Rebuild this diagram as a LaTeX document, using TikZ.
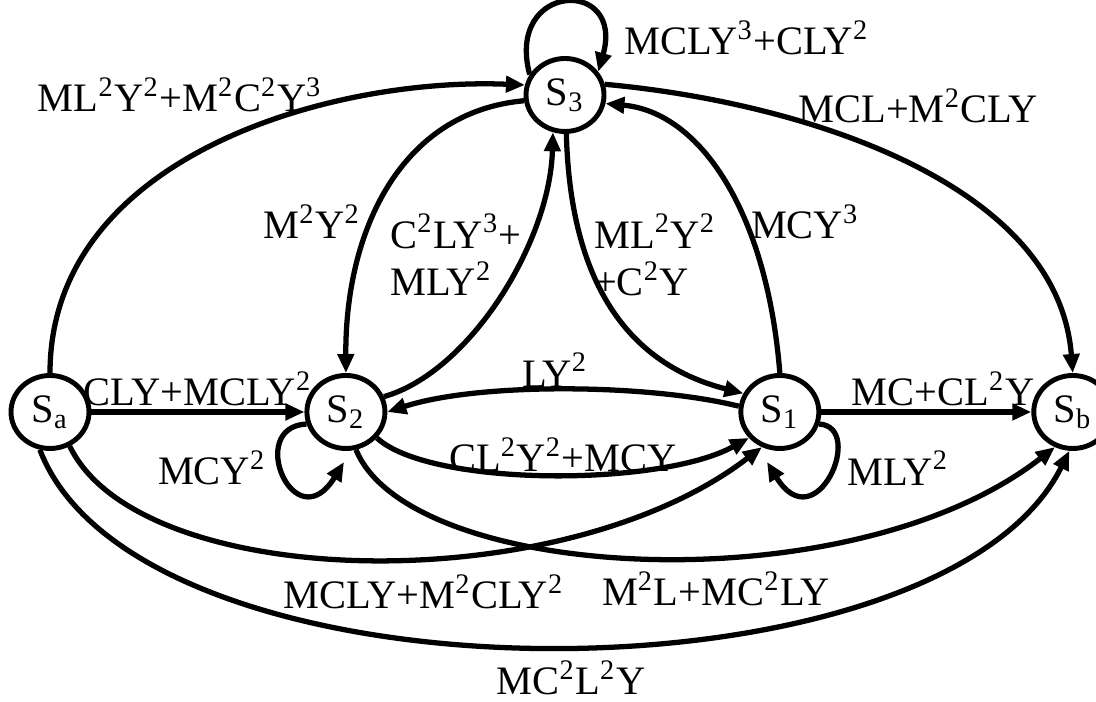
\documentclass[tikz,border=0pt]{standalone}
\usepackage{fontspec}
\setmainfont{Liberation Serif}
\usetikzlibrary{arrows.meta,positioning,shapes.geometric}
\newcommand{\pw}[1]{\textsuperscript{#1}}
\tikzset{
  st/.style={draw,ellipse,line width=1.4pt,minimum width=7.8mm,minimum height=7.3mm,
    inner sep=0pt,fill=white},
  arrow/.style={-{Triangle[length=1.9mm,width=1.6mm]},line width=1.5pt,draw=black},
  term/.style={inner sep=1pt,align=left}
}

\begin{document}
\begin{tikzpicture}[x=0.1mm,y=0.1mm,font=\fontsize{11.5}{13.5}\selectfont]
  \useasboundingbox (0,0) rectangle (1096,702);

  % states
  \node[st] (sa) at (50,290) {S\textsubscript{a}};
  \node[st,right=21.3mm of sa] (s2) {S\textsubscript{2}};
  \node[st,right=35.1mm of s2] (s1) {S\textsubscript{1}};
  \node[st,right=21mm of s1] (sb) {S\textsubscript{b}};
  \node[st] (s3) at (565,607) {S\textsubscript{3}};

  % loop ends stop short of the state
  \coordinate (s2loop) at (344,240);
  \coordinate (s1loop) at (767,240);

  % straight transitions
  \draw[arrow] (sa) -- node[term,above] (tsa2) {CLY+MCLY\pw{2}} (s2);
  \draw[arrow] (s1) -- node[term,above,pos=0.58] (ts1b) {MC+CL\pw{2}Y} (sb);

  % upper arcs
  \draw[arrow] (sa.north) .. controls (50,545) and (330,625) .. (s3.166);
  \draw[arrow] (s3.188) .. controls (400,590) and (345,470) .. (s2.north);
  \draw[arrow] (s2.22) .. controls (470,330) and (550,460) .. (s3.252);
  \draw[arrow] (s3.272) .. controls (570,430) and (620,340) .. (s1.153);
  \draw[arrow] (s1.north) .. controls (767,490) and (700,590) .. (s3.348);
  \draw[arrow] (s3.15) .. controls (800,600) and (1058,520) .. (sb.north);
  \draw[arrow] (s3.150) .. controls (505,720) and (625,725) .. (s3.35);

  % between s2 and s1
  \draw[arrow] (s1.172) .. controls (650,318) and (480,320) .. (s2.east);
  \draw[arrow] (s2.320) .. controls (430,215) and (660,215) .. (s1.220);

  % self loops
  \draw[arrow] (s2.197) .. controls (245,275) and (295,160) .. (s2loop);
  \draw[arrow] (s1.343) .. controls (866,275) and (816,160) .. (s1loop);

  % lower arcs
  \draw[arrow] (sa.300) .. controls (140,110) and (560,100) .. (s1.243);
  \draw[arrow] (s2.285) .. controls (410,120) and (850,95) .. (sb.243);
  \draw[arrow] (sa.255) .. controls (140,-10) and (940,-10) .. (sb.265);

  % rates
  \node[term] (tsa3) at (180,607) {ML\pw{2}Y\pw{2}+M\pw{2}C\pw{2}Y\pw{3}};
  \node[term] (t32) at (312,480) {M\pw{2}Y\pw{2}};
  \node[term] (t23) at (456,447) {C\pw{2}LY\pw{3}+\\MLY\pw{2}};
  \node[term] (t31) at (655,447) {ML\pw{2}Y\pw{2}\\+C\pw{2}Y};
  \node[term] (t13) at (805,480) {MCY\pw{3}};
  \node[term] (t3b) at (918,596) {MCL+M\pw{2}CLY};
  \node[term] (t33) at (747,664) {MCLY\pw{3}+CLY\pw{2}};
  \node[term] (t12) at (555,332) {LY\pw{2}};
  \node[term] (t21) at (563,247) {CL\pw{2}Y\pw{2}+MCY};
  \node[term] (t11) at (898,234) {MLY\pw{2}};
  \node[term] (t22) at (212,234) {MCY\pw{2}};
  \node[term] (ta1) at (424,110) {MCLY+M\pw{2}CLY\pw{2}};
  \node[term] (t2b) at (716,113) {M\pw{2}L+MC\pw{2}LY};
  \node[term] (tab) at (571,24) {MC\pw{2}L\pw{2}Y};
\end{tikzpicture}
\end{document}
